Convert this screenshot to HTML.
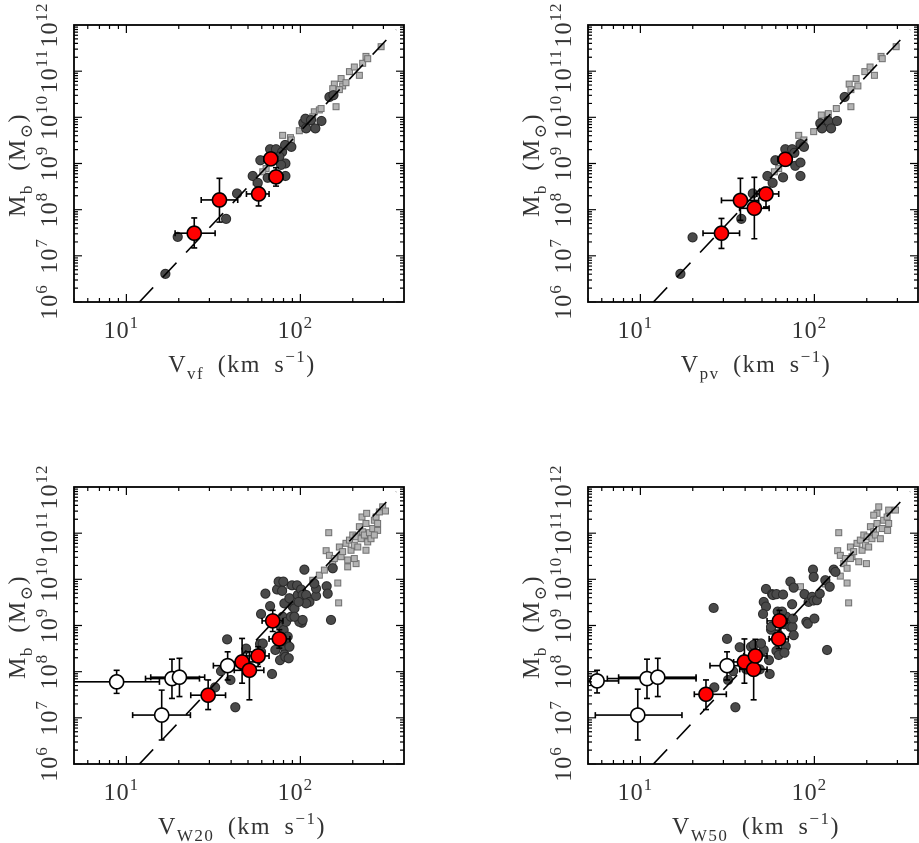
<!DOCTYPE html>
<html><head><meta charset="utf-8"><style>
html,body{margin:0;padding:0;background:#fff;}
svg{display:block;font-family:"Liberation Serif","DejaVu Serif",serif;}
</style></head><body>
<svg id="chart" width="919" height="843" viewBox="0 0 919 843" xmlns="http://www.w3.org/2000/svg"></svg>
<script>
// ---- data (log10 V, log10 Mb) ----
const vfCircV=[1.224,1.295,1.573,1.636,1.726,1.755,1.770,1.826,1.860,1.895,1.879,1.914,1.889,1.812,1.914,1.912,1.948,2.017,2.029,2.061,2.086,2.121,2.033,2.167,2.190];
const vfCircM=[6.61,7.41,7.80,8.35,8.73,8.58,9.07,9.31,9.31,9.25,9.15,9.00,8.97,8.69,8.73,9.40,9.36,9.88,9.97,9.94,9.76,9.92,9.76,10.44,10.48];
const vfSqV=[1.898,1.943,1.948,1.803,1.784,1.745,1.994,2.013,2.080,2.109,2.071,2.119,2.195,2.186,2.234,2.243,2.262,2.224,2.205,2.282,2.310,2.339,2.358,2.377,2.387,2.464];
const vfSqM=[9.61,9.56,9.51,8.89,8.82,8.60,9.71,9.83,10.12,10.16,10.01,10.19,10.72,10.62,10.84,10.68,10.75,10.60,10.23,10.99,11.09,10.91,11.17,11.32,11.27,11.53];
const vfRedV=[1.39,1.535,1.76,1.83,1.86];
const vfRedM=[7.49,8.21,8.34,9.10,8.71];
const vfRedVlo=[1.28,1.43,1.69,1.79,1.82], vfRedVhi=[1.51,1.64,1.82,1.87,1.90];
const vfRedMlo=[7.17,7.73,8.08,8.98,8.51], vfRedMhi=[7.82,8.68,8.49,9.22,8.91];

const pvCircV=[1.23,1.30,1.58,1.646,1.73,1.76,1.776,1.82,1.833,1.872,1.885,1.92,1.89,1.92,1.92,1.94,2.034,2.044,2.08,2.096,2.13,2.174];
const pvCircM=[6.61,7.40,7.80,8.35,8.73,8.58,9.07,8.70,9.31,9.31,9.23,9.42,8.95,9.02,8.73,9.36,9.87,9.76,9.92,9.76,9.92,10.44];
const pvSqV=[1.91,1.94,1.795,1.77,1.996,2.04,2.08,2.126,2.20,2.21,2.24,2.25,2.21,2.29,2.32,2.345,2.383,2.39,2.47];
const pvSqM=[9.61,9.51,8.89,8.82,9.69,10.05,10.08,10.19,10.72,10.60,10.84,10.68,10.23,10.99,11.09,10.91,11.32,11.27,11.53];
const pvRedV=[1.466,1.575,1.655,1.722,1.833];
const pvRedM=[7.49,8.20,8.03,8.34,9.09];
const pvRedVlo=[1.36,1.466,1.57,1.67,1.79], pvRedVhi=[1.57,1.68,1.74,1.795,1.87];
const pvRedMlo=[7.16,7.77,7.37,8.06,8.97], pvRedMhi=[7.81,8.68,8.70,8.48,9.21];

const w20CircV=[1.579,1.510,1.626,1.544,1.598,1.688,1.768,1.774,1.784,1.774,1.826,1.799,1.837,1.856,1.866,1.875,1.895,1.908,1.898,1.889,1.904,1.918,1.902,1.908,1.883,1.914,1.933,1.918,1.937,1.927,1.946,1.956,1.966,1.937,1.952,1.902,1.981,1.985,2.004,2.023,2.013,2.033,2.052,2.090,2.090,2.080,2.008,1.994,1.966,2.013,2.033,1.990,2.151,2.176,2.186,2.157];
const w20CircM=[8.70,7.66,7.23,8.01,7.82,8.50,8.60,8.43,8.61,9.25,9.42,9.69,7.95,8.47,9.78,9.95,9.75,9.48,9.19,8.97,8.90,9.08,8.55,8.37,8.25,8.32,8.29,8.65,8.54,8.76,9.19,9.41,9.37,9.59,9.87,9.95,9.87,9.66,9.78,10.21,9.66,9.66,9.51,9.64,9.80,9.91,9.06,9.08,9.19,9.12,9.48,9.51,9.85,9.12,10.24,9.69];
const w20SqV=[2.163,2.220,2.215,2.148,2.167,2.186,2.195,2.224,2.234,2.243,2.262,2.272,2.282,2.291,2.301,2.310,2.320,2.330,2.320,2.339,2.349,2.358,2.368,2.377,2.387,2.397,2.406,2.416,2.425,2.435,2.444,2.377,2.354,2.454,2.473,2.489,2.444,2.425,2.272,2.310,2.071,2.109,2.138,1.937,2.381];
const w20SqM=[11.01,9.49,9.92,10.62,10.52,10.34,10.45,10.70,10.49,10.60,10.78,10.42,10.85,10.63,10.96,10.74,10.92,10.70,10.34,11.14,10.88,11.03,10.96,11.21,10.81,11.01,10.88,11.10,11.28,11.35,11.21,10.63,11.35,11.46,11.57,11.48,11.06,10.96,10.27,10.45,9.98,10.09,10.20,9.87,11.43];
const w20RedV=[1.47,1.665,1.707,1.757,1.841,1.879];
const w20RedM=[7.49,8.21,8.03,8.34,9.10,8.71];
const w20RedVlo=[1.37,1.565,1.62,1.69,1.78,1.82], w20RedVhi=[1.57,1.765,1.79,1.82,1.90,1.94];
const w20RedMlo=[7.18,7.75,7.39,8.11,8.87,8.51], w20RedMhi=[7.82,8.72,8.43,8.54,9.33,8.91];
const w20OpenV=[0.944,1.203,1.262,1.305,1.582];
const w20OpenM=[7.78,7.06,7.85,7.88,8.13];
const w20OpenVlo=[0.5,1.036,1.11,1.14,1.50], w20OpenVhi=[1.19,1.368,1.42,1.45,1.67];
const w20OpenMlo=[7.53,6.52,7.42,7.46,7.82], w20OpenMhi=[8.03,7.60,8.27,8.29,8.43];

const w50CircV=[1.421,1.498,1.425,1.504,1.546,1.533,1.571,1.636,1.651,1.709,1.743,1.693,1.709,1.722,1.705,1.722,1.757,1.762,1.782,1.789,1.820,1.795,1.828,1.782,1.795,1.835,1.839,1.862,1.874,1.881,1.872,1.862,1.881,1.877,1.943,1.954,1.962,1.967,1.987,1.996,2.000,1.992,1.996,2.015,2.031,2.063,2.088,2.111,2.073,2.121,1.828,1.751,1.805,1.739,1.609,1.686,1.814,1.751];
const w50CircM=[9.38,8.71,7.66,7.82,7.23,8.01,8.53,8.54,8.58,8.47,7.95,8.61,9.51,9.41,9.25,9.79,9.68,9.66,9.68,9.30,9.67,9.08,9.03,8.45,8.36,8.55,9.19,8.97,8.97,8.79,9.46,9.95,9.82,9.15,9.68,9.08,9.04,9.51,9.62,9.54,9.15,10.21,10.05,9.55,9.69,9.98,9.84,10.21,8.47,10.16,8.41,8.91,8.72,8.25,8.05,8.05,9.30,8.97];
const w50SqV=[2.140,2.197,2.188,2.134,2.149,2.169,2.178,2.207,2.216,2.226,2.245,2.255,2.264,2.274,2.284,2.293,2.303,2.312,2.299,2.322,2.331,2.341,2.351,2.360,2.379,2.389,2.398,2.418,2.427,2.360,2.370,2.427,2.466,2.421,2.188,2.149,2.063,1.920,2.341,2.207];
const w50SqM=[11.01,9.49,9.92,10.62,10.52,10.34,10.45,10.70,10.49,10.60,10.78,10.38,10.85,10.63,10.96,10.74,10.92,10.70,10.34,11.14,10.88,11.03,10.96,11.21,10.88,11.10,11.28,11.35,11.21,11.43,11.57,11.50,11.50,11.06,10.24,10.07,9.90,9.84,11.39,10.45];
const w50RedV=[1.377,1.598,1.651,1.661,1.799,1.795];
const w50RedM=[7.51,8.21,8.05,8.34,9.10,8.71];
const w50RedVlo=[1.31,1.536,1.571,1.594,1.728,1.74], w50RedVhi=[1.494,1.67,1.728,1.728,1.843,1.85];
const w50RedMlo=[7.18,7.75,7.39,7.96,8.86,8.50], w50RedMhi=[7.82,8.71,8.43,8.70,9.33,8.90];
const w50OpenV=[0.751,0.985,1.038,1.10,1.498];
const w50OpenM=[7.80,7.06,7.85,7.88,8.13];
const w50OpenVlo=[0.5,0.741,0.81,0.875,1.40], w50OpenVhi=[0.875,1.239,1.32,1.32,1.59];
const w50OpenMlo=[7.54,6.52,7.42,7.46,7.82], w50OpenMhi=[8.03,7.62,8.27,8.29,8.43];

const fitSlope=4, fitIntercept=1.7;
const xTickLabels=["1","2"];
const yTickLabels=["6","7","8","9","10","11","12"];

const NS="http://www.w3.org/2000/svg";
const svg=document.getElementById('chart');
function mk(tag,attrs,parent){const e=document.createElementNS(NS,tag);for(const k in attrs)e.setAttribute(k,attrs[k]);(parent||svg).appendChild(e);return e;}

const PW=330,PH=277,XMIN=Math.log10(5),XPD=174,YMIN=6,YPD=PH/6;
const panels=[
 {name:'vf',ox:74,oy:25,sub:'vf',circV:vfCircV,circM:vfCircM,sqV:vfSqV,sqM:vfSqM,redV:vfRedV,redM:vfRedM,rVlo:vfRedVlo,rVhi:vfRedVhi,rMlo:vfRedMlo,rMhi:vfRedMhi},
 {name:'pv',ox:588,oy:25,sub:'pv',circV:pvCircV,circM:pvCircM,sqV:pvSqV,sqM:pvSqM,redV:pvRedV,redM:pvRedM,rVlo:pvRedVlo,rVhi:pvRedVhi,rMlo:pvRedMlo,rMhi:pvRedMhi},
 {name:'w20',ox:74,oy:487,sub:'W20',circV:w20CircV,circM:w20CircM,sqV:w20SqV,sqM:w20SqM,redV:w20RedV,redM:w20RedM,rVlo:w20RedVlo,rVhi:w20RedVhi,rMlo:w20RedMlo,rMhi:w20RedMhi,openV:w20OpenV,openM:w20OpenM,oVlo:w20OpenVlo,oVhi:w20OpenVhi,oMlo:w20OpenMlo,oMhi:w20OpenMhi},
 {name:'w50',ox:588,oy:487,sub:'W50',circV:w50CircV,circM:w50CircM,sqV:w50SqV,sqM:w50SqM,redV:w50RedV,redM:w50RedM,rVlo:w50RedVlo,rVhi:w50RedVhi,rMlo:w50RedMlo,rMhi:w50RedMhi,openV:w50OpenV,openM:w50OpenM,oVlo:w50OpenVlo,oVhi:w50OpenVhi,oMlo:w50OpenMlo,oMhi:w50OpenMhi}
];

panels.forEach((p,pi)=>{
  const X=lv=>p.ox+(lv-XMIN)*XPD;
  const Y=lm=>p.oy+PH-(lm-YMIN)*YPD;
  const g=mk('g',{});
  
  
  const cid='clip'+pi;
  const cp=mk('clipPath',{id:cid},g);mk('rect',{x:p.ox,y:p.oy,width:PW,height:PH},cp);
  const data=mk('g',{'clip-path':'url(#'+cid+')'},g);
  p.sqV.forEach((v,i)=>{const s=mk('rect',{x:X(v)-3,y:Y(p.sqM[i])-3,width:6,height:6,fill:'#b3b3b3',stroke:'#707070','stroke-width':1},data);
    
    });
  p.circV.forEach((v,i)=>{const c=mk('circle',{cx:X(v),cy:Y(p.circM[i]),r:4.6,fill:'#4a4a4a',stroke:'#2a2a2a','stroke-width':1},data);
    
    });
  const l0=(YMIN-fitIntercept)/fitSlope, l1=2.55;
  const fl=mk('line',{x1:X(l0),y1:Y(fitSlope*l0+fitIntercept),x2:X(l1),y2:Y(fitSlope*l1+fitIntercept),stroke:'#000','stroke-width':1.6,'stroke-dasharray':'20,14'},data);
  
  
  function errbars(V,M,vlo,vhi,mlo,mhi){
    V.forEach((v,i)=>{const x=X(v),y=Y(M[i]);
      const e=mk('path',{d:`M${X(vlo[i])},${y}H${X(vhi[i])}M${X(vlo[i])},${y-3}v6M${X(vhi[i])},${y-3}v6M${x},${Y(mlo[i])}V${Y(mhi[i])}M${x-3},${Y(mlo[i])}h6M${x-3},${Y(mhi[i])}h6`,stroke:'#000','stroke-width':1.6,fill:'none'},data);
      
      });
  }
  errbars(p.redV,p.redM,p.rVlo,p.rVhi,p.rMlo,p.rMhi);
  if(p.openV) errbars(p.openV,p.openM,p.oVlo,p.oVhi,p.oMlo,p.oMhi);
  p.redV.forEach((v,i)=>{const c=mk('circle',{cx:X(v),cy:Y(p.redM[i]),r:7,fill:'#ff0000',stroke:'#000','stroke-width':1.6},data);
    
    });
  if(p.openV) p.openV.forEach((v,i)=>{const c=mk('circle',{cx:X(v),cy:Y(p.openM[i]),r:7,fill:'#fff',stroke:'#000','stroke-width':1.6},data);
    
    });
  const fr=mk('rect',{x:p.ox,y:p.oy,width:PW,height:PH,fill:'none',stroke:'#000','stroke-width':1.8},g);
  
  
  let d='';
  for(let dec=0;dec<=2;dec++)for(let k=1;k<=9;k++){const lv=dec+Math.log10(k);if(lv<XMIN-1e-9||lv>XMIN+PW/XPD)continue;const x=X(lv),len=k==1?8:4;d+=`M${x},${p.oy+PH}v${-len}M${x},${p.oy}v${len}`;}
  for(let dec=6;dec<=11;dec++)for(let k=1;k<=9;k++){const lm=dec+Math.log10(k);const y=Y(lm),len=k==1?8:4;d+=`M${p.ox},${y}h${len}M${p.ox+PW},${y}h${-len}`;}
  const tk=mk('path',{d:d,stroke:'#000','stroke-width':1.2,fill:'none'},g);
  
  
  xTickLabels.forEach((e,i)=>{const t=mk('text',{x:X(i+1)-5,y:p.oy+PH+36,'font-size':24,'letter-spacing':1,'text-anchor':'middle',fill:'#333'},g);
    
    
    t.textContent='10';const s=mk('tspan',{dy:-10,'font-size':17},t);s.textContent=e;});
  yTickLabels.forEach((e,i)=>{const y=Y(6+i);const t=mk('text',{x:0,y:0,transform:`translate(${p.ox-17},${y}) rotate(-90)`,'font-size':24,'letter-spacing':1,'text-anchor':'middle',fill:'#333'},g);
    
    
    t.textContent='10';const s=mk('tspan',{dy:-10,'font-size':17},t);s.textContent=e;});
  const xt=mk('text',{x:p.ox+168,y:p.oy+PH+70,'font-size':24,'letter-spacing':1.5,'text-anchor':'middle',fill:'#333'},g);
  
  
  xt.textContent='V';const sb=mk('tspan',{dy:7,'font-size':17},xt);sb.textContent=p.sub;
  const r1=mk('tspan',{dy:-7},xt);r1.textContent='\u2002(km\u2002s';
  const r2=mk('tspan',{dy:-10,'font-size':17},xt);r2.textContent='\u22121';
  const r3=mk('tspan',{dy:10},xt);r3.textContent=')';
  const yt=mk('text',{x:0,y:0,transform:`translate(${p.ox-49},${p.oy+140}) rotate(-90)`,'font-size':24,'letter-spacing':1.5,'text-anchor':'middle',fill:'#333'},g);
  
  
  yt.textContent='M';const b=mk('tspan',{dy:7,'font-size':17},yt);b.textContent='b';
  const b2=mk('tspan',{dy:-7},yt);b2.textContent='\u2002(M';
  const b3=mk('tspan',{dy:7,'font-size':17},yt);b3.textContent='\u2299';
  const b4=mk('tspan',{dy:-7},yt);b4.textContent=')';
});
</script>
</body></html>
